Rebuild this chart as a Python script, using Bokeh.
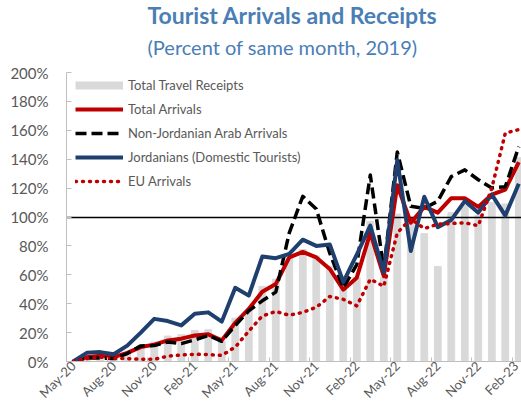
import math
from bokeh.plotting import figure
from bokeh.models import Range1d, FixedTicker, PrintfTickFormatter, Title, Legend, LegendItem
from bokeh.embed import file_html
from bokeh.resources import INLINE

months = ["May-20", "Jun-20", "Jul-20", "Aug-20", "Sep-20", "Oct-20", "Nov-20", "Dec-20",
          "Jan-21", "Feb-21", "Mar-21", "Apr-21", "May-21", "Jun-21", "Jul-21", "Aug-21",
          "Sep-21", "Oct-21", "Nov-21", "Dec-21", "Jan-22", "Feb-22", "Mar-22", "Apr-22",
          "May-22", "Jun-22", "Jul-22", "Aug-22", "Sep-22", "Oct-22", "Nov-22", "Dec-22",
          "Jan-23", "Feb-23"]

receipts = [0, 2, 2, 3, 5, 9, 13.5, 17.6, 18.5, 21.5, 22, 14, 30, 35, 52, 57, 73, 77.5, 73, 66,
            51, 58, 97, 58, 102, 98, 88.5, 65.8, 103, 108, 101, 110, 109, 141]
total_arrivals = [0, 3, 4, 3, 6, 10, 11.7, 14.6, 15.8, 18, 18.8, 14.6, 26.8, 36.4, 48.3, 53.6, 72, 75.8, 72, 64,
                  49.7, 58, 89, 59, 122, 96, 107, 103, 113, 113, 107, 115.5, 119, 138]
arab_arrivals = [0, 2.5, 2.5, 2, 5.5, 10.8, 11, 13.5, 12.4, 15, 18, 14, 25, 35, 42, 48, 89, 114.3, 105.5, 75,
                 51, 67, 129, 64, 145, 107.4, 106, 111, 128, 132.6, 125.8, 120, 121, 148.7]
jordanians = [0, 6, 6.5, 5, 11, 20, 29.5, 28, 25, 33, 34, 27.6, 51, 45.6, 72.6, 71.5, 74.5, 84.3, 80, 81,
              55, 74, 94, 61.6, 139.5, 76.5, 114, 93, 98, 111, 103, 115.5, 101, 123]
eu_arrivals = [0, 2, 3, 2, 2, 1.5, 1.5, 3.7, 4.5, 5, 4.8, 4.2, 10, 21, 31.5, 34.6, 32, 34, 37.5, 45,
               43, 38.5, 57, 52, 89, 98.7, 92, 95, 95.5, 96, 94, 120, 158, 160.5]
reference_line = [100]
y_ticks = list(range(0, 201, 20))

idx = list(range(len(months)))

p = figure(width=521, height=409, output_backend="svg", toolbar_location=None, title=None,
           x_range=Range1d(-0.5, 33.2), y_range=Range1d(0, 200),
           min_border_left=66, min_border_right=0, min_border_top=72, min_border_bottom=46)
p.xgrid.visible = False
p.ygrid.visible = False
p.outline_line_color = None
p.background_fill_color = "white"

axis_gray = "#BFBFBF"
label_gray = "#595959"

p.xaxis.ticker = FixedTicker(ticks=idx[::3], minor_ticks=[i - 0.5 for i in idx[::3]])
p.xaxis.major_label_overrides = {i: months[i] for i in idx[::3]}
p.xaxis.major_label_orientation = math.pi / 4
p.xaxis.major_tick_in = 0
p.xaxis.major_tick_out = 0
p.xaxis.minor_tick_in = 4
p.xaxis.minor_tick_out = 0
p.xaxis.minor_tick_line_color = axis_gray
p.xaxis.axis_line_color = axis_gray
p.xaxis.major_label_text_font = "Lato"
p.xaxis.major_label_text_font_size = "13px"
p.xaxis.major_label_text_color = label_gray
p.xaxis.major_label_standoff = 2

p.yaxis.ticker = FixedTicker(ticks=y_ticks)
p.yaxis.formatter = PrintfTickFormatter(format="%d%%")
p.yaxis.major_tick_in = 5
p.yaxis.major_tick_out = 0
p.yaxis.minor_tick_line_color = None
p.yaxis.major_tick_line_color = axis_gray
p.yaxis.axis_line_color = axis_gray
p.yaxis.major_label_text_font = "Lato"
p.yaxis.major_label_text_font_size = "15px"
p.yaxis.major_label_text_color = label_gray
p.yaxis.major_label_standoff = 18

bar_color = "#D9D9D9"
red = "#C00000"
navy = "#1F3F6E"

p.vbar(x=idx, top=receipts, width=0.5, color=bar_color)
p.hspan(y=reference_line, line_color="black", line_width=1.5)

r_total = p.line(idx, total_arrivals, line_color=red, line_width=4, line_join="round")
r_arab = p.line(idx, arab_arrivals, line_color="black", line_width=3.5, line_dash="11 5", line_join="round")
r_jord = p.line(idx, jordanians, line_color=navy, line_width=4, line_join="round")
r_eu = p.line(idx, eu_arrivals, line_color=red, line_width=3.5, line_dash="1 6", line_cap="round")
r_rec_leg = p.line(x=[0, 1], y=[float("nan"), float("nan")], line_color=bar_color, line_width=8)

legend = Legend(items=[
    LegendItem(label="Total Travel Receipts", renderers=[r_rec_leg]),
    LegendItem(label="Total Arrivals", renderers=[r_total]),
    LegendItem(label="Non-Jordanian Arab Arrivals", renderers=[r_arab]),
    LegendItem(label="Jordanians (Domestic Tourists)", renderers=[r_jord]),
    LegendItem(label="EU Arrivals", renderers=[r_eu]),
], location=(9, 170), glyph_width=48, glyph_height=20, label_height=20, spacing=4,
    padding=0, margin=0, label_standoff=5, label_text_font="Lato", label_text_font_size="13px",
    label_text_color=label_gray, background_fill_alpha=0, border_line_color=None)
p.add_layout(legend)

title_color = "#4A7EB5"
p.add_layout(Title(text="(Percent of same month, 2019)", align="left", offset=81,
                   text_font="Lato", text_font_size="20px", text_font_style="normal",
                   text_color=title_color, standoff=27), "above")
p.add_layout(Title(text="Tourist Arrivals and Receipts", align="left", offset=81,
                   text_font="Lato", text_font_size="23px", text_font_style="bold",
                   text_color=title_color, standoff=-18.5), "above")

open("out.html", "w").write(file_html(p, INLINE))
